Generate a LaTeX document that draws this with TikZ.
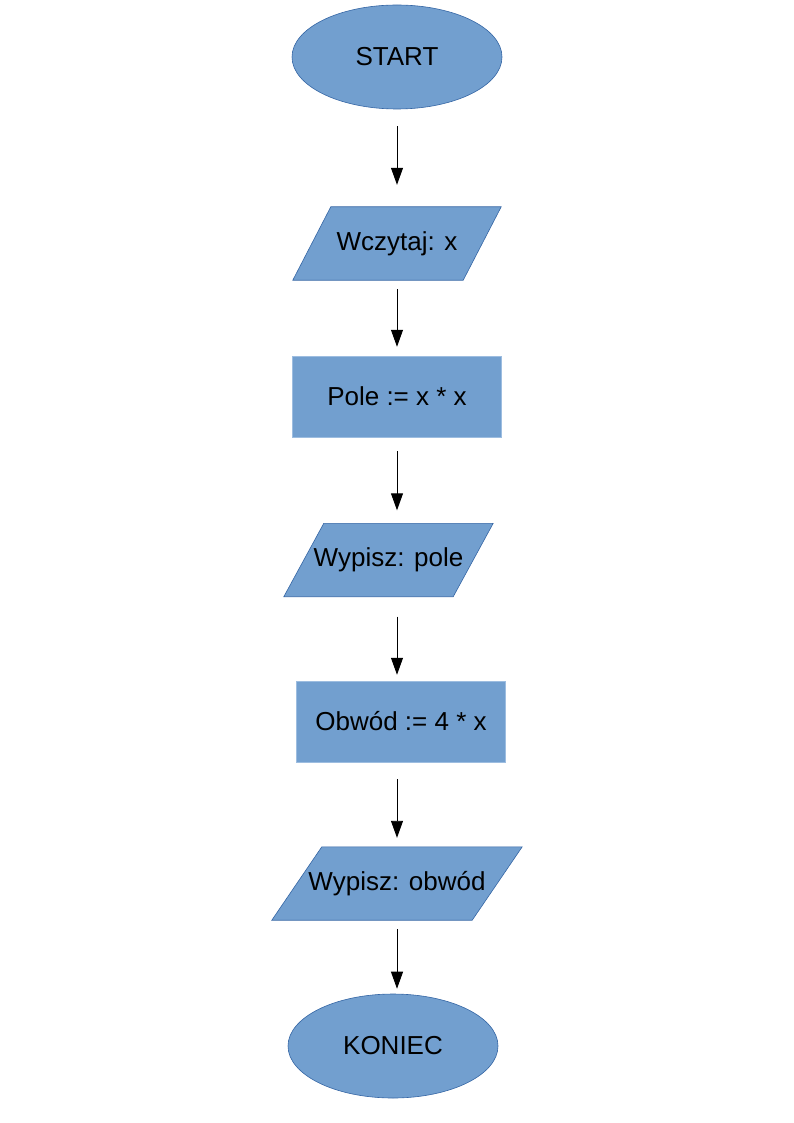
\documentclass[tikz,border=0pt]{standalone}
\usepackage{fontspec}
\setmainfont{Liberation Sans}
\usetikzlibrary{shapes.geometric,arrows.meta,backgrounds,calc}
\definecolor{fillblue}{HTML}{729FCF}
\definecolor{edgeblue}{HTML}{3465A4}
\definecolor{rectedge}{HTML}{9DBDE0}
\begin{document}
\begin{tikzpicture}[x=1pt,y=-1pt,
  font=\fontsize{26}{30}\selectfont,
  term/.style={ellipse, fill=fillblue, draw=edgeblue, line width=0.6pt, minimum width=210pt, minimum height=104pt, inner sep=0pt},
  proc/.style={rectangle, fill=fillblue, draw=rectedge, line width=0.5pt, inner sep=0pt, minimum width=209pt, minimum height=81pt},
  iobox/.style={rectangle, inner sep=0pt, minimum height=73pt},
  iofill/.style={fill=fillblue, draw=edgeblue, line width=0.6pt},
  arr/.style={-{Triangle[width=12pt,length=17pt]}, line width=0.9pt, black}]
\useasboundingbox (0,0) rectangle (794,1123);
\coordinate (axis) at (397,0);
\node[term] (start) at (397,57) {START};
\node[iobox, minimum width=208pt] (in1) at (397,243.5) {Wczytaj: x};
\node[proc] (pole) at (397,396.5) {Pole := x * x};
\node[iobox, minimum width=209pt] (out1) at (388.5,560) {Wypisz: pole};
\node[proc] (obw) at (401,721.5) {Obwód := 4 * x};
\node[iobox, minimum width=250pt] (out2) at (397,883.5) {Wypisz: obwód};
\node[term] (end) at (393,1046) {KONIEC};
\begin{scope}[on background layer]
\filldraw[iofill] (in1.south west) -- ([xshift=-38pt]in1.south east) -- (in1.north east) -- ([xshift=38pt]in1.north west) -- cycle;
\filldraw[iofill] (out1.south west) -- ([xshift=-40pt]out1.south east) -- (out1.north east) -- ([xshift=40pt]out1.north west) -- cycle;
\filldraw[iofill] (out2.south west) -- ([xshift=-50pt]out2.south east) -- (out2.north east) -- ([xshift=50pt]out2.north west) -- cycle;
\end{scope}
\draw[arr, shorten <=17pt, shorten >=22pt] (axis |- start.south) -- (axis |- in1.north);
\draw[arr, shorten <=9pt, shorten >=9pt] (axis |- in1.south) -- (axis |- pole.north);
\draw[arr, shorten <=14pt, shorten >=13pt] (axis |- pole.south) -- (axis |- out1.north);
\draw[arr, shorten <=20pt, shorten >=6pt] (axis |- out1.south) -- (axis |- obw.north);
\draw[arr, shorten <=17pt, shorten >=9pt] (axis |- obw.south) -- (axis |- out2.north);
\draw[arr, shorten <=9pt, shorten >=5pt] (axis |- out2.south) -- (axis |- end.north);
\end{tikzpicture}
\end{document}
